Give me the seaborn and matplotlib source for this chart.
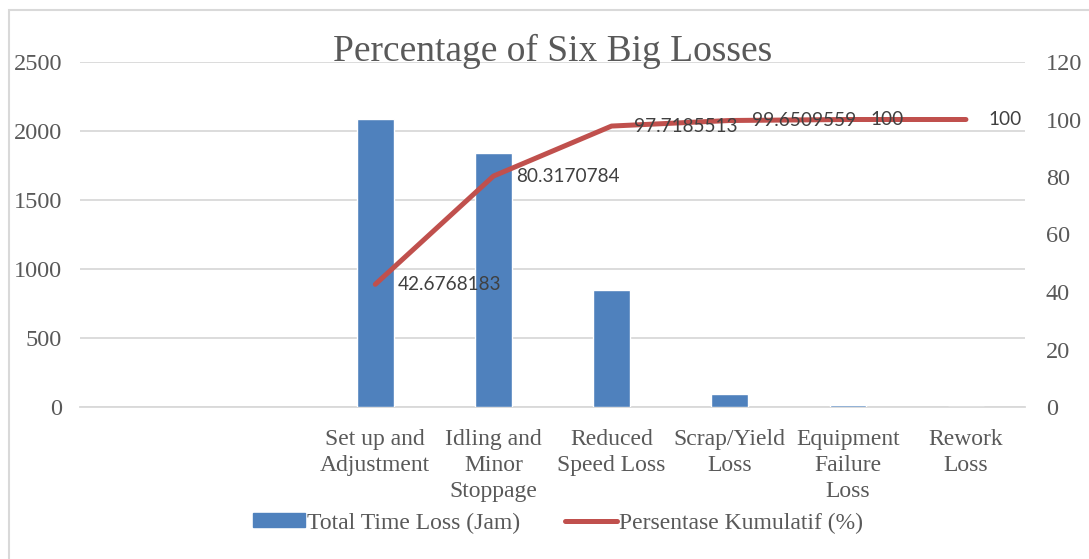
import pandas as pd
import matplotlib.pyplot as plt
import matplotlib.patches as mpatches
import matplotlib.lines as mlines
import seaborn as sns

# --- data ---
categories = ["Set up and Adjustment", "Idling and Minor Stoppage", "Reduced Speed Loss",
              "Scrap/Yield Loss", "Equipment Failure Loss", "Rework Loss"]
tick_labels = ["Set up and\nAdjustment", "Idling and\nMinor\nStoppage", "Reduced\nSpeed Loss",
               "Scrap/Yield\nLoss", "Equipment\nFailure\nLoss", "Rework\nLoss"]
total_loss = [2087, 1841, 851, 94.5, 17, 0]
cumulative_pct = [42.6768183, 80.3170784, 97.7185513, 99.6509559, 100, 100]
# the Excel chart has two empty category slots on the left
empty_slots = ["_empty1", "_empty2"]

BLUE = "#4F81BD"
RED = "#C0504D"
GREY = "#595959"
GRID = "#D9D9D9"

sns.set_theme(style="white")
plt.rcParams['font.family'] = ['Liberation Serif', 'DejaVu Serif']

df = pd.DataFrame({'Category': categories, 'Loss': total_loss})
order = empty_slots + categories

fig = plt.figure(figsize=(10.89, 5.59), dpi=100)
ax = fig.add_axes([80 / 1089, 1 - 407 / 559, 945 / 1089, 345 / 559])

# bars - total time loss
sns.barplot(data=df, x='Category', y='Loss', order=order, color=BLUE,
            saturation=1, width=0.31, ax=ax, zorder=3)
ax.set_ylim(0, 2500)
ax.set_yticks(range(0, 2501, 500))
ax.yaxis.grid(True, color=GRID, linewidth=1.3, zorder=0)
ax.set_axisbelow(True)
ax.set_xticks(range(len(order)))
ax.set_xticklabels(["", ""] + tick_labels, linespacing=1.32)
ax.set_xlabel("")
ax.set_ylabel("")
ax.tick_params(axis='x', length=0, pad=16, labelsize=17, labelcolor=GREY)
ax.tick_params(axis='y', length=0, pad=13, labelsize=17.5, labelcolor=GREY)
for s in ['top', 'left', 'right']:
    ax.spines[s].set_visible(False)
ax.spines['bottom'].set_color(GRID)
ax.spines['bottom'].set_linewidth(1.3)
ax.spines['bottom'].set_zorder(0.5)

# line - cumulative percentage on second axis
ax2 = ax.twinx()
positions = [order.index(c) for c in categories]
sns.lineplot(x=positions, y=cumulative_pct, ax=ax2, color=RED, linewidth=3.6,
             sort=False, legend=False, solid_capstyle='round')
ax2.set_ylim(0, 120)
ax2.set_yticks(range(0, 121, 20))
ax2.tick_params(axis='y', length=0, pad=15, labelsize=17.5, labelcolor=GREY)
ax2.set_ylabel("")
for s in ax2.spines.values():
    s.set_visible(False)
ax.set_xlim(-0.5, len(order) - 0.5)

# data labels
for x, v in zip(positions, cumulative_pct):
    txt = f"{v:.7f}".rstrip('0').rstrip('.')
    ax2.annotate(txt, (x, v), xytext=(16, 0), textcoords='offset points',
                 ha='left', va='center', fontsize=13.7, color="#404040",
                 family=['Lato', 'DejaVu Sans'])

# title sits inside the plot area like excel does it
ax.text(0.5, 1.03, "Percentage of Six Big Losses", transform=ax.transAxes,
        ha='center', va='center', fontsize=27, color=GREY)

# legend at the bottom
bar_h = mpatches.Patch(color=BLUE, label="Total Time Loss (Jam)")
line_h = mlines.Line2D([], [], color=RED, linewidth=3.6, solid_capstyle='round',
                       label="Persentase Kumulatif (%)")
leg = fig.legend(handles=[bar_h, line_h], loc='center', bbox_to_anchor=(558 / 1089, 1 - 523 / 559),
                 ncol=2, frameon=False, fontsize=17, handlelength=2.2, handleheight=0.5,
                 handletextpad=0.1, columnspacing=1.9)
for t in leg.get_texts():
    t.set_color(GREY)

# chart frame
fig.patches.append(mpatches.Rectangle((9 / 1089, -0.02), 1.1, 1 - 10 / 559 + 0.02,
                                      transform=fig.transFigure, fill=False,
                                      edgecolor=GRID, linewidth=1.5))

fig.savefig("out.png", dpi=100)
